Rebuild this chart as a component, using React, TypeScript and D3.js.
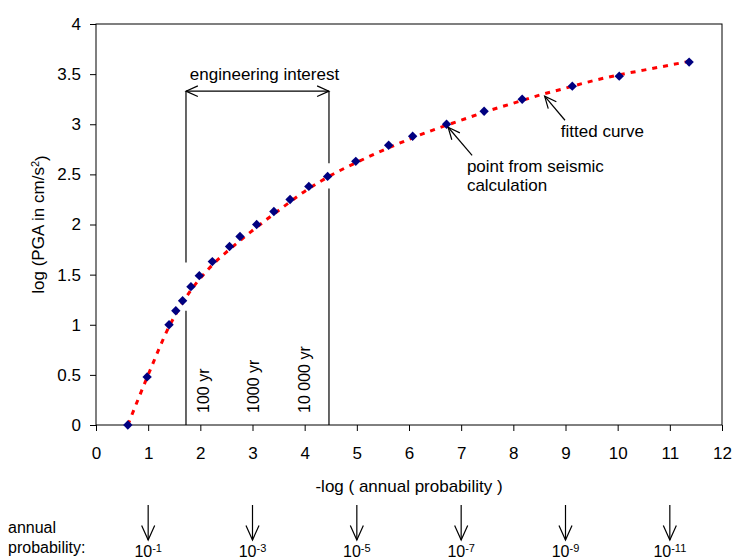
import React, { useEffect, useRef } from "react";
import * as d3 from "d3";

// seismic calculation points
const probX = [0.61, 0.98, 1.4, 1.53, 1.66, 1.82, 1.98, 2.23, 2.56, 2.76, 3.08, 3.41, 3.72, 4.08, 4.44, 4.98, 5.61, 6.07, 6.72, 7.44, 8.17, 9.13, 10.03, 11.37];
const pga = [0, 0.48, 1.0, 1.14, 1.24, 1.38, 1.49, 1.63, 1.78, 1.88, 2.0, 2.13, 2.25, 2.38, 2.48, 2.63, 2.79, 2.88, 3.0, 3.13, 3.25, 3.38, 3.48, 3.62];

// fitted curve
const fitX = [0.61, 1.0, 1.4, 1.8, 2.2, 2.6, 3.0, 3.5, 4.0, 4.5, 5.0, 5.5, 6.0, 6.5, 7.0, 7.5, 8.0, 8.5, 9.0, 9.5, 10.0, 10.5, 11.0, 11.4];
const fitY = [0, 0.5, 0.98, 1.33, 1.58, 1.77, 1.94, 2.14, 2.33, 2.49, 2.62, 2.74, 2.85, 2.95, 3.04, 3.13, 3.21, 3.29, 3.36, 3.43, 3.49, 3.54, 3.59, 3.63];

const xTickValues = [0, 1, 2, 3, 4, 5, 6, 7, 8, 9, 10, 11, 12];
const yTickValues = [0, 0.5, 1, 1.5, 2, 2.5, 3, 3.5, 4];

// engineering interest bounds and gaps where the lines stop near the points
const boundX = [1.725, 4.466];
const boundGapTop = [1.62, 2.61];
const boundGapBottom = [1.14, 2.36];
const returnPeriods = ["100 yr", "1000 yr", "10 000 yr"];
const returnPeriodX = [2.05, 3.01, 4.0];

const probExponents = [1, 3, 5, 7, 9, 11];

const FONT = "'Liberation Sans', Arial, sans-serif";

const headPath = (x1: number, y1: number, x2: number, y2: number, len = 11, spread = 0.42) => {
  const a = Math.atan2(y2 - y1, x2 - x1);
  const p1 = [x2 - len * Math.cos(a - spread), y2 - len * Math.sin(a - spread)];
  const p2 = [x2 - len * Math.cos(a + spread), y2 - len * Math.sin(a + spread)];
  return `M${p1[0]},${p1[1]}L${x2},${y2}L${p2[0]},${p2[1]}`;
};

const Arrow = ({ x1, y1, x2, y2, both = false, len = 11 }: any) => (
  <g stroke="black" strokeWidth={1.2} fill="none">
    <line x1={x1} y1={y1} x2={x2} y2={y2} />
    <path d={headPath(x1, y1, x2, y2, len)} />
    {both && <path d={headPath(x2, y2, x1, y1, len)} />}
  </g>
);

const App = () => {
  const xAxisRef = useRef<SVGGElement>(null);
  const yAxisRef = useRef<SVGGElement>(null);

  const x = d3.scaleLinear().domain([0, 12]).range([96, 722]);
  const y = d3.scaleLinear().domain([0, 4]).range([425, 24]);

  useEffect(() => {
    const xg = d3.select(xAxisRef.current);
    xg.call(d3.axisBottom(x).tickValues(xTickValues).tickSize(6).tickPadding(16).tickFormat((d) => String(d)));
    xg.attr("font-family", FONT).attr("font-size", 17);
    xg.select(".domain").remove();
    xg.selectAll("text").attr("fill", "black");

    const yg = d3.select(yAxisRef.current);
    yg.call(d3.axisLeft(y).tickValues(yTickValues).tickSize(6).tickPadding(9).tickFormat((d) => String(d)));
    yg.attr("font-family", FONT).attr("font-size", 17);
    yg.select(".domain").remove();
    yg.selectAll("text").attr("fill", "black");
  }, []);

  const fitLine = d3
    .line<number>()
    .x((d, i) => x(d))
    .y((d, i) => y(fitY[i]))
    .curve(d3.curveMonotoneX);

  const diamond = d3.symbol().type(d3.symbolSquare).size(44)();
  const arrowY = y(3.33);

  return (
    <svg width={733} height={559} style={{ position: "absolute", left: 0, top: 0 }} fontFamily={FONT}>
      <rect x={96} y={24} width={626} height={401} fill="white" stroke="black" strokeWidth={1} />

      {/* engineering interest bounds */}
      {boundX.map((bx, i) => (
        <g key={i} stroke="black" strokeWidth={1.2}>
          <line x1={x(bx)} x2={x(bx)} y1={arrowY} y2={y(boundGapTop[i])} />
          <line x1={x(bx)} x2={x(bx)} y1={y(boundGapBottom[i])} y2={y(0)} />
        </g>
      ))}
      <Arrow x1={x(boundX[0])} y1={arrowY} x2={x(boundX[1])} y2={arrowY} both len={13} />
      <text x={x(3.23)} y={y(3.44)} textAnchor="middle" fontSize={17}>
        engineering interest
      </text>

      {returnPeriods.map((t, i) => (
        <text
          key={t}
          transform={`translate(${x(returnPeriodX[i])},${y(0.12)}) rotate(-90)`}
          dy="0.35em"
          fontSize={16}
        >
          {t}
        </text>
      ))}

      <path d={fitLine(fitX) || ""} fill="none" stroke="#ff0000" strokeWidth={3} strokeDasharray="5,6" />

      {probX.map((d, i) => (
        <path key={i} d={diamond || ""} transform={`translate(${x(d)},${y(pga[i])}) rotate(45)`} fill="#000080" />
      ))}

      <Arrow x1={x(7.21)} y1={y(2.69)} x2={x(6.75)} y2={y(2.97)} len={13} />
      <text x={x(7.11)} y={y(2.52)} fontSize={17}>point from seismic</text>
      <text x={x(7.11)} y={y(2.33)} fontSize={17}>calculation</text>

      <Arrow x1={x(8.99)} y1={y(3.04)} x2={x(8.6)} y2={y(3.28)} len={13} />
      <text x={x(8.91)} y={y(2.87)} fontSize={17}>fitted curve</text>

      <g ref={xAxisRef} transform={`translate(0,${y(0)})`} />
      <g ref={yAxisRef} transform={`translate(${x(0)},0)`} />

      <text x={(x(0) + x(12)) / 2} y={492} textAnchor="middle" fontSize={17}>
        -log ( annual probability )
      </text>
      <text transform={`translate(44,${(y(0) + y(4)) / 2}) rotate(-90)`} textAnchor="middle" fontSize={17}>
        log (PGA in cm/s<tspan dy="-0.5em" fontSize={11}>2</tspan>
        <tspan dy="0.5em">)</tspan>
      </text>

      {/* annual probability markers */}
      <text x={8} y={533} fontSize={16}>annual</text>
      <text x={8} y={553} fontSize={16}>probability:</text>
      {probExponents.map((e) => (
        <g key={e}>
          <Arrow x1={x(e)} y1={505} x2={x(e)} y2={540} len={16} />
          <text x={x(e)} y={557} textAnchor="middle" fontSize={16}>
            10<tspan dy="-0.5em" fontSize={11}>{`-${e}`}</tspan>
          </text>
        </g>
      ))}
    </svg>
  );
};

export default App;
